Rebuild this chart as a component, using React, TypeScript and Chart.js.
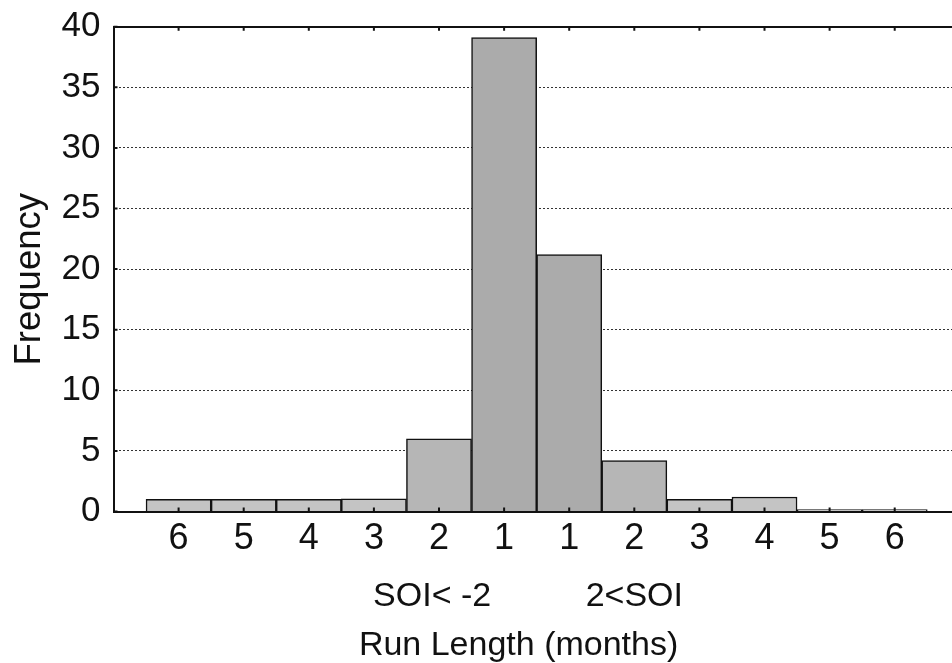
import React, { useEffect, useRef } from "react";
import { Chart, registerables } from "chart.js";

Chart.register(...registerables);

// ---- data ----
const runLengths = ["6", "5", "4", "3", "2", "1", "1", "2", "3", "4", "5", "6"];
const frequencies = [1, 1, 1, 1.05, 6, 39.1, 21.2, 4.2, 1, 1.2, 0.15, 0.15];
const yTickValues = [0, 5, 10, 15, 20, 25, 30, 35, 40];
const xTitleLines = ["SOI< -2          2<SOI ", "Run Length (months)   "];
const yTitle = "Frequency  ";

const FONT = "'Liberation Sans', Arial, Helvetica, sans-serif";
const INK = "#111111";

const barColors = frequencies.map((f) => (f > 15 ? "#ababab" : f > 3 ? "#b6b6b6" : "#c4c4c4"));

const innerTicks = {
  id: "innerTicks",
  afterDatasetsDraw(chart: any) {
    const { ctx, chartArea, scales } = chart;
    const xs = scales.x;
    const ys = scales.y;
    ctx.save();
    ctx.strokeStyle = INK;
    ctx.lineWidth = 2;
    ctx.beginPath();
    runLengths.forEach((_, i) => {
      const px = xs.getPixelForValue(i + 1);
      ctx.moveTo(px, chartArea.bottom);
      ctx.lineTo(px, chartArea.bottom - 4);
      ctx.moveTo(px, chartArea.top);
      ctx.lineTo(px, chartArea.top + 4);
    });
    yTickValues.forEach((v) => {
      const py = ys.getPixelForValue(v);
      ctx.moveTo(chartArea.left, py);
      ctx.lineTo(chartArea.left + 4, py);
    });
    ctx.stroke();
    ctx.restore();
  },
};

export default function App() {
  const ref = useRef<HTMLCanvasElement | null>(null);

  useEffect(() => {
    if (!ref.current) return;
    const chart = new Chart(ref.current, {
      type: "bar",
      data: {
        datasets: [
          {
            data: frequencies.map((f, i) => ({ x: i + 1, y: f })),
            backgroundColor: barColors,
            borderColor: INK,
            borderWidth: 1.5,
            borderSkipped: "start",
            categoryPercentage: 1,
            barPercentage: 1,
          },
        ],
      },
      options: {
        animation: false,
        responsive: false,
        devicePixelRatio: 1,
        layout: { padding: { left: 8, top: 0, right: 0, bottom: 0 } },
        plugins: { legend: { display: false }, tooltip: { enabled: false } },
        scales: {
          x: {
            type: "linear",
            position: "bottom",
            offset: false,
            min: 0,
            max: 12.88,
            afterBuildTicks: (axis: any) => {
              axis.ticks = runLengths.map((_, i) => ({ value: i + 1 }));
            },
            afterFit: (scale: any) => {
              scale.height = 151.5;
              scale.paddingLeft = 0;
              scale.paddingRight = 0;
            },
            ticks: {
              autoSkip: false,
              maxRotation: 0,
              padding: 6,
              color: INK,
              font: { family: FONT, size: 36 },
              callback: (v: any) => runLengths[Number(v) - 1] ?? "",
            },
            grid: { display: true, offset: false, drawOnChartArea: false, drawTicks: false },
            border: { display: true, color: INK, width: 2 },
            title: {
              display: true,
              text: xTitleLines,
              color: INK,
              font: { family: FONT, size: 34, lineHeight: 1.426 },
              padding: { top: 0, bottom: -6.75 },
            },
          },
          x2: {
            type: "linear",
            position: "top",
            offset: false,
            min: 0,
            max: 12.88,
            afterFit: (scale: any) => {
              scale.height = 26.7;
              scale.paddingLeft = 0;
              scale.paddingRight = 0;
            },
            ticks: { display: false },
            grid: { display: false, offset: false, drawTicks: false },
            border: { display: true, color: INK, width: 2 },
          },
          y: {
            min: 0,
            max: 40,
            afterBuildTicks: (axis: any) => {
              axis.ticks = yTickValues.map((v) => ({ value: v }));
            },
            afterFit: (scale: any) => {
              scale.width = 105.5;
              scale.paddingTop = 0;
              scale.paddingBottom = 0;
            },
            ticks: {
              padding: 13,
              color: INK,
              font: { family: FONT, size: 35 },
            },
            grid: {
              drawTicks: false,
              lineWidth: 1,
              color: (c: any) =>
                c.tick && (c.tick.value === 0 || c.tick.value === 40) ? "rgba(0,0,0,0)" : "#333333",
            },
            border: { display: true, color: INK, width: 2, dash: [2, 2] },
            title: {
              display: true,
              text: yTitle,
              color: INK,
              font: { family: FONT, size: 36.5, lineHeight: 1.2 },
              padding: { top: 0, bottom: 0 },
            },
          },
        },
      },
      plugins: [innerTicks],
    } as any);
    return () => chart.destroy();
  }, []);

  return (
    <div style={{ position: "fixed", left: 0, top: 0, width: 952, height: 663, overflow: "hidden", background: "#fff" }}>
      <canvas ref={ref} width={952} height={663} style={{ display: "block" }} />
    </div>
  );
}
